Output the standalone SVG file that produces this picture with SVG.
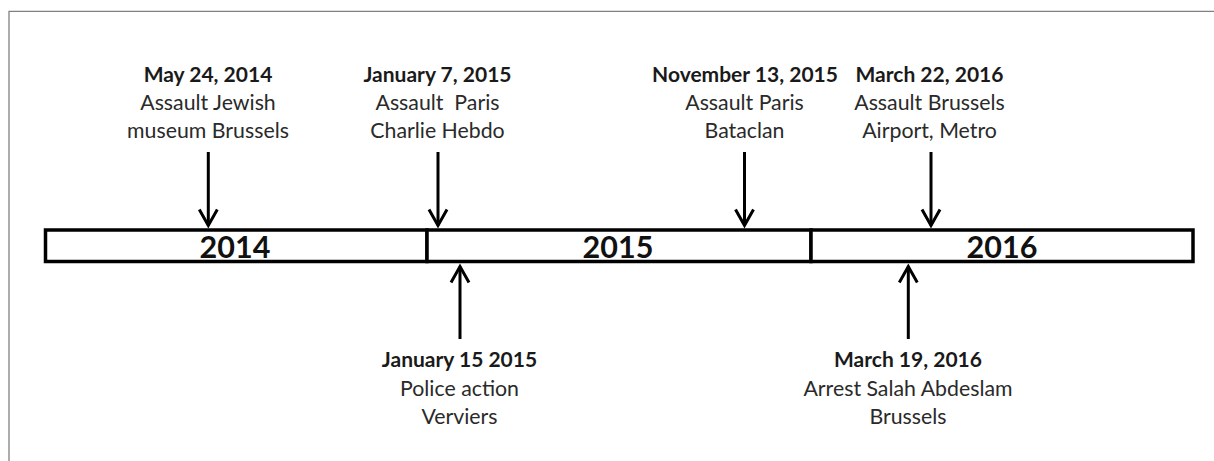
<svg xmlns="http://www.w3.org/2000/svg" width="1214" height="461" viewBox="0 0 1214 461">
<style>
.bg{fill:#ffffff}
.frame{fill:none;stroke:#808080;stroke-width:1.3}
.bar{fill:#ffffff;stroke:#000000;stroke-width:3.5}
.year{font-family:Lato,"Liberation Sans",sans-serif;font-weight:bold;font-size:30.5px;fill:#111111;text-anchor:middle}
.date{font-family:Lato,"Liberation Sans",sans-serif;font-weight:bold;font-size:21px;fill:#1a1a1a;text-anchor:middle}
.desc{font-family:Lato,"Liberation Sans",sans-serif;font-size:21.3px;fill:#2a2a2a;text-anchor:middle}
.arrow{stroke:#000000;stroke-width:3;fill:none;marker-end:url(#head)}
</style>
<defs>
<marker id="head" markerUnits="userSpaceOnUse" markerWidth="20" markerHeight="20" refX="0" refY="0" orient="auto" overflow="visible">
<path d="M-16,-9 L0,0 L-16,9" fill="none" stroke="#000000" stroke-width="3" stroke-linejoin="miter"/>
</marker>
</defs>
<rect class="bg" x="0" y="0" width="1214" height="461"/>
<path class="frame" d="M9,461 L9,11.3 L1214,11.3"/>

<g id="timeline">
<g id="year-2014">
<rect class="bar" x="45.5" y="230" width="381.5" height="31.5"/>
<text class="year" x="235" y="258">2014</text>
</g>
<g id="year-2015">
<rect class="bar" x="427" y="230" width="384" height="31.5"/>
<text class="year" x="618" y="258">2015</text>
</g>
<g id="year-2016">
<rect class="bar" x="811" y="230" width="382" height="31.5"/>
<text class="year" x="1002" y="258">2016</text>
</g>
</g>

<g id="event-may-2014">
<text class="date" x="208" y="82">May 24, 2014</text>
<text class="desc" x="208" y="110">Assault Jewish</text>
<text class="desc" x="208" y="137.5">museum Brussels</text>
</g>
<g id="event-jan7-2015">
<text class="date" x="437.5" y="82">January 7, 2015</text>
<text class="desc" x="437.5" y="110" xml:space="preserve">Assault  Paris</text>
<text class="desc" x="437.5" y="137.5">Charlie Hebdo</text>
</g>
<g id="event-nov-2015">
<text class="date" x="745" y="82">November 13, 2015</text>
<text class="desc" x="744.5" y="110">Assault Paris</text>
<text class="desc" x="744.5" y="137.5">Bataclan</text>
</g>
<g id="event-mar22-2016">
<text class="date" x="929.5" y="82">March 22, 2016</text>
<text class="desc" x="929.5" y="110">Assault Brussels</text>
<text class="desc" x="929.5" y="137.5">Airport, Metro</text>
</g>
<g id="event-jan15-2015">
<text class="date" x="459.5" y="367">January 15 2015</text>
<text class="desc" x="459.5" y="395.5">Police action</text>
<text class="desc" x="459.5" y="423.5">Verviers</text>
</g>
<g id="event-mar19-2016">
<text class="date" x="908" y="367">March 19, 2016</text>
<text class="desc" x="908" y="395.5">Arrest Salah Abdeslam</text>
<text class="desc" x="908" y="423.5">Brussels</text>
</g>

<g id="connectors">
<line class="arrow" x1="208.3" y1="152" x2="208.3" y2="225.5"/>
<line class="arrow" x1="438" y1="152" x2="438" y2="225.5"/>
<line class="arrow" x1="744.5" y1="152" x2="744.5" y2="225.5"/>
<line class="arrow" x1="931" y1="152" x2="931" y2="225.5"/>
<line class="arrow" x1="460" y1="339" x2="460" y2="266.5"/>
<line class="arrow" x1="908.3" y1="339" x2="908.3" y2="266.5"/>
</g>
</svg>
